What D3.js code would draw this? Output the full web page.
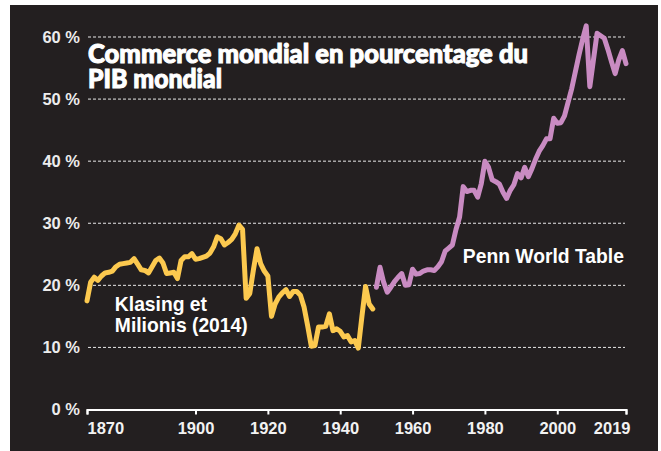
<!DOCTYPE html>
<html>
<head>
<meta charset="utf-8">
<script src="https://cdn.jsdelivr.net/npm/d3@7"></script>
<style>
  body { margin: 0; background: #ffffff; }
  svg { display: block; }
</style>
</head>
<body>
<div id="chart"></div>
<script>
// Data (trade in % of world GDP)
const klasingYears = d3.range(1870, 1950);
const klasingValues = [
  17.5, 20.5, 21.3, 20.8, 21.5, 22.0, 22.1, 22.3, 23.0, 23.4,
  23.5, 23.6, 23.7, 24.3, 23.4, 22.5, 22.4, 22.0, 23.0, 24.0,
  24.4, 23.6, 21.9, 22.0, 22.1, 21.1, 24.0, 24.6, 24.6, 25.1,
  24.2, 24.3, 24.5, 24.7, 25.2, 26.2, 27.8, 27.5, 26.5, 26.9,
  27.4, 28.3, 29.7, 29.0, 17.9, 18.7, 22.5, 25.9, 23.5, 22.3,
  21.5, 15.0, 17.0, 18.1, 18.8, 19.3, 18.2, 19.0, 19.0, 18.4,
  16.5, 13.5, 10.2, 10.3, 13.3, 13.3, 13.4, 15.4, 12.7, 13.0,
  12.6, 11.7, 11.9, 10.9, 11.1, 9.9, 15.0, 19.8, 17.0, 16.2
];

const pennYears = d3.range(1950, 2020);
const pennValues = [
  19.7, 22.9, 20.5, 18.9, 19.7, 20.6, 21.3, 21.9, 20.0, 20.1,
  22.6, 21.8, 21.9, 22.3, 22.5, 22.5, 22.4, 23.0, 23.8, 25.5,
  26.0, 26.5, 29.0, 31.0, 35.9, 35.1, 35.3, 35.3, 34.2, 36.4,
  40.0, 39.0, 37.0, 36.7, 36.3, 35.0, 34.0, 35.3, 36.2, 38.0,
  37.3, 39.0, 37.5, 38.8, 40.3, 41.6, 42.5, 43.6, 43.6, 46.9,
  46.1, 46.2, 47.3, 49.5, 51.7, 54.4, 57.1, 59.6, 61.8, 52.0,
  56.3, 60.6, 60.2, 59.8, 58.0, 56.0, 54.1, 56.3, 57.8, 55.7
];

const xTicks = [1870, 1900, 1920, 1940, 1960, 1980, 2000, 2019];
const yTicks = [0, 10, 20, 30, 40, 50, 60];

// Chart Dimensions
const W = 661, H = 451;
const margin = { top: 37, right: 35, bottom: 41.5, left: 87 };
const width = W - margin.left - margin.right;
const height = H - margin.top - margin.bottom;

const root = d3.select("#chart")
    .append("svg")
    .attr("width", W)
    .attr("height", H);

// dark panel
root.append("rect")
    .attr("x", 10)
    .attr("y", 5)
    .attr("width", 648)
    .attr("height", H - 5)
    .attr("fill", "#231f20");

const svg = root.append("g")
    .attr("transform", `translate(${margin.left},${margin.top})`);

// Scales
const x = d3.scaleLinear().domain([1870, 2019]).range([0, width]);
const y = d3.scaleLinear().domain([0, 60]).range([height, 0]);

const axisFont = "'Liberation Sans', Arial, sans-serif";

// Gridlines
svg.append("g")
    .selectAll("line")
    .data(yTicks.filter(d => d > 0))
    .enter()
    .append("line")
    .attr("x1", 1)
    .attr("x2", width - 1)
    .attr("y1", d => y(d))
    .attr("y2", d => y(d))
    .attr("stroke", "#e8e8e8")
    .attr("stroke-width", 1)
    .attr("stroke-dasharray", "3,2");

// Y labels
const yAxis = svg.append("g")
    .call(d3.axisLeft(y).tickValues(yTicks).tickSize(0).tickPadding(7).tickFormat(d => d + " %"));
yAxis.select(".domain").remove();
yAxis.selectAll("text")
    .attr("fill", "#ececec")
    .style("font-family", axisFont)
    .style("font-weight", "bold")
    .style("font-size", "16.5px");

// X axis
const xAxis = svg.append("g")
    .attr("transform", `translate(0,${height})`)
    .call(d3.axisBottom(x).tickValues(xTicks).tickSize(5).tickSizeOuter(5).tickFormat(d3.format("d")));
xAxis.select(".domain")
    .attr("stroke", "#ffffff")
    .attr("stroke-width", 2);
xAxis.selectAll(".tick line")
    .attr("stroke", "#ffffff")
    .attr("stroke-width", 2);
xAxis.selectAll("text")
    .attr("y", 13)
    .attr("fill", "#f2f2f2")
    .style("font-family", axisFont)
    .style("font-weight", "bold")
    .style("font-size", "16.5px")
    .style("text-anchor", d => d === 1870 ? "start" : d === 2019 ? "end" : "middle")
    .attr("dx", d => d === 2019 ? 4 : 0);

// Lines
const line = d3.line()
    .x(d => x(d[0]))
    .y(d => y(d[1]));

svg.append("path")
    .datum(d3.zip(klasingYears, klasingValues))
    .attr("fill", "none")
    .attr("stroke", "#fcc94f")
    .attr("stroke-width", 5)
    .attr("stroke-linejoin", "round")
    .attr("stroke-linecap", "round")
    .attr("d", line);

svg.append("path")
    .datum(d3.zip(pennYears, pennValues))
    .attr("fill", "none")
    .attr("stroke", "#c98bc2")
    .attr("stroke-width", 5)
    .attr("stroke-linejoin", "round")
    .attr("stroke-linecap", "round")
    .attr("d", line);

// Series labels
const label = svg.append("text")
    .attr("x", x(1877.7))
    .attr("y", y(15.9))
    .attr("fill", "#ffffff")
    .style("font-family", axisFont)
    .style("font-weight", "bold")
    .style("font-size", "19.3px");
label.append("tspan").text("Klasing et");
label.append("tspan").attr("x", x(1877.7)).attr("dy", 21).text("Milionis (2014)");

svg.append("text")
    .attr("x", x(1973.9))
    .attr("y", y(23.6))
    .attr("fill", "#ffffff")
    .style("font-family", axisFont)
    .style("font-weight", "bold")
    .style("font-size", "19.3px")
    .text("Penn World Table");

// Title
const titleFont = "Lato, 'Open Sans', sans-serif";
svg.append("text")
    .attr("x", 1)
    .attr("y", 26)
    .attr("fill", "#ffffff")
    .attr("stroke", "#ffffff")
    .attr("stroke-width", 1)
    .attr("textLength", 440)
    .attr("lengthAdjust", "spacingAndGlyphs")
    .style("font-family", titleFont)
    .style("font-weight", 900)
    .style("font-size", "26px")
    .text("Commerce mondial en pourcentage du");

svg.append("text")
    .attr("x", 1)
    .attr("y", 51)
    .attr("fill", "#ffffff")
    .attr("stroke", "#ffffff")
    .attr("stroke-width", 1)
    .attr("textLength", 134)
    .attr("lengthAdjust", "spacingAndGlyphs")
    .style("font-family", titleFont)
    .style("font-weight", 900)
    .style("font-size", "26px")
    .text("PIB mondial");
</script>
</body>
</html>
